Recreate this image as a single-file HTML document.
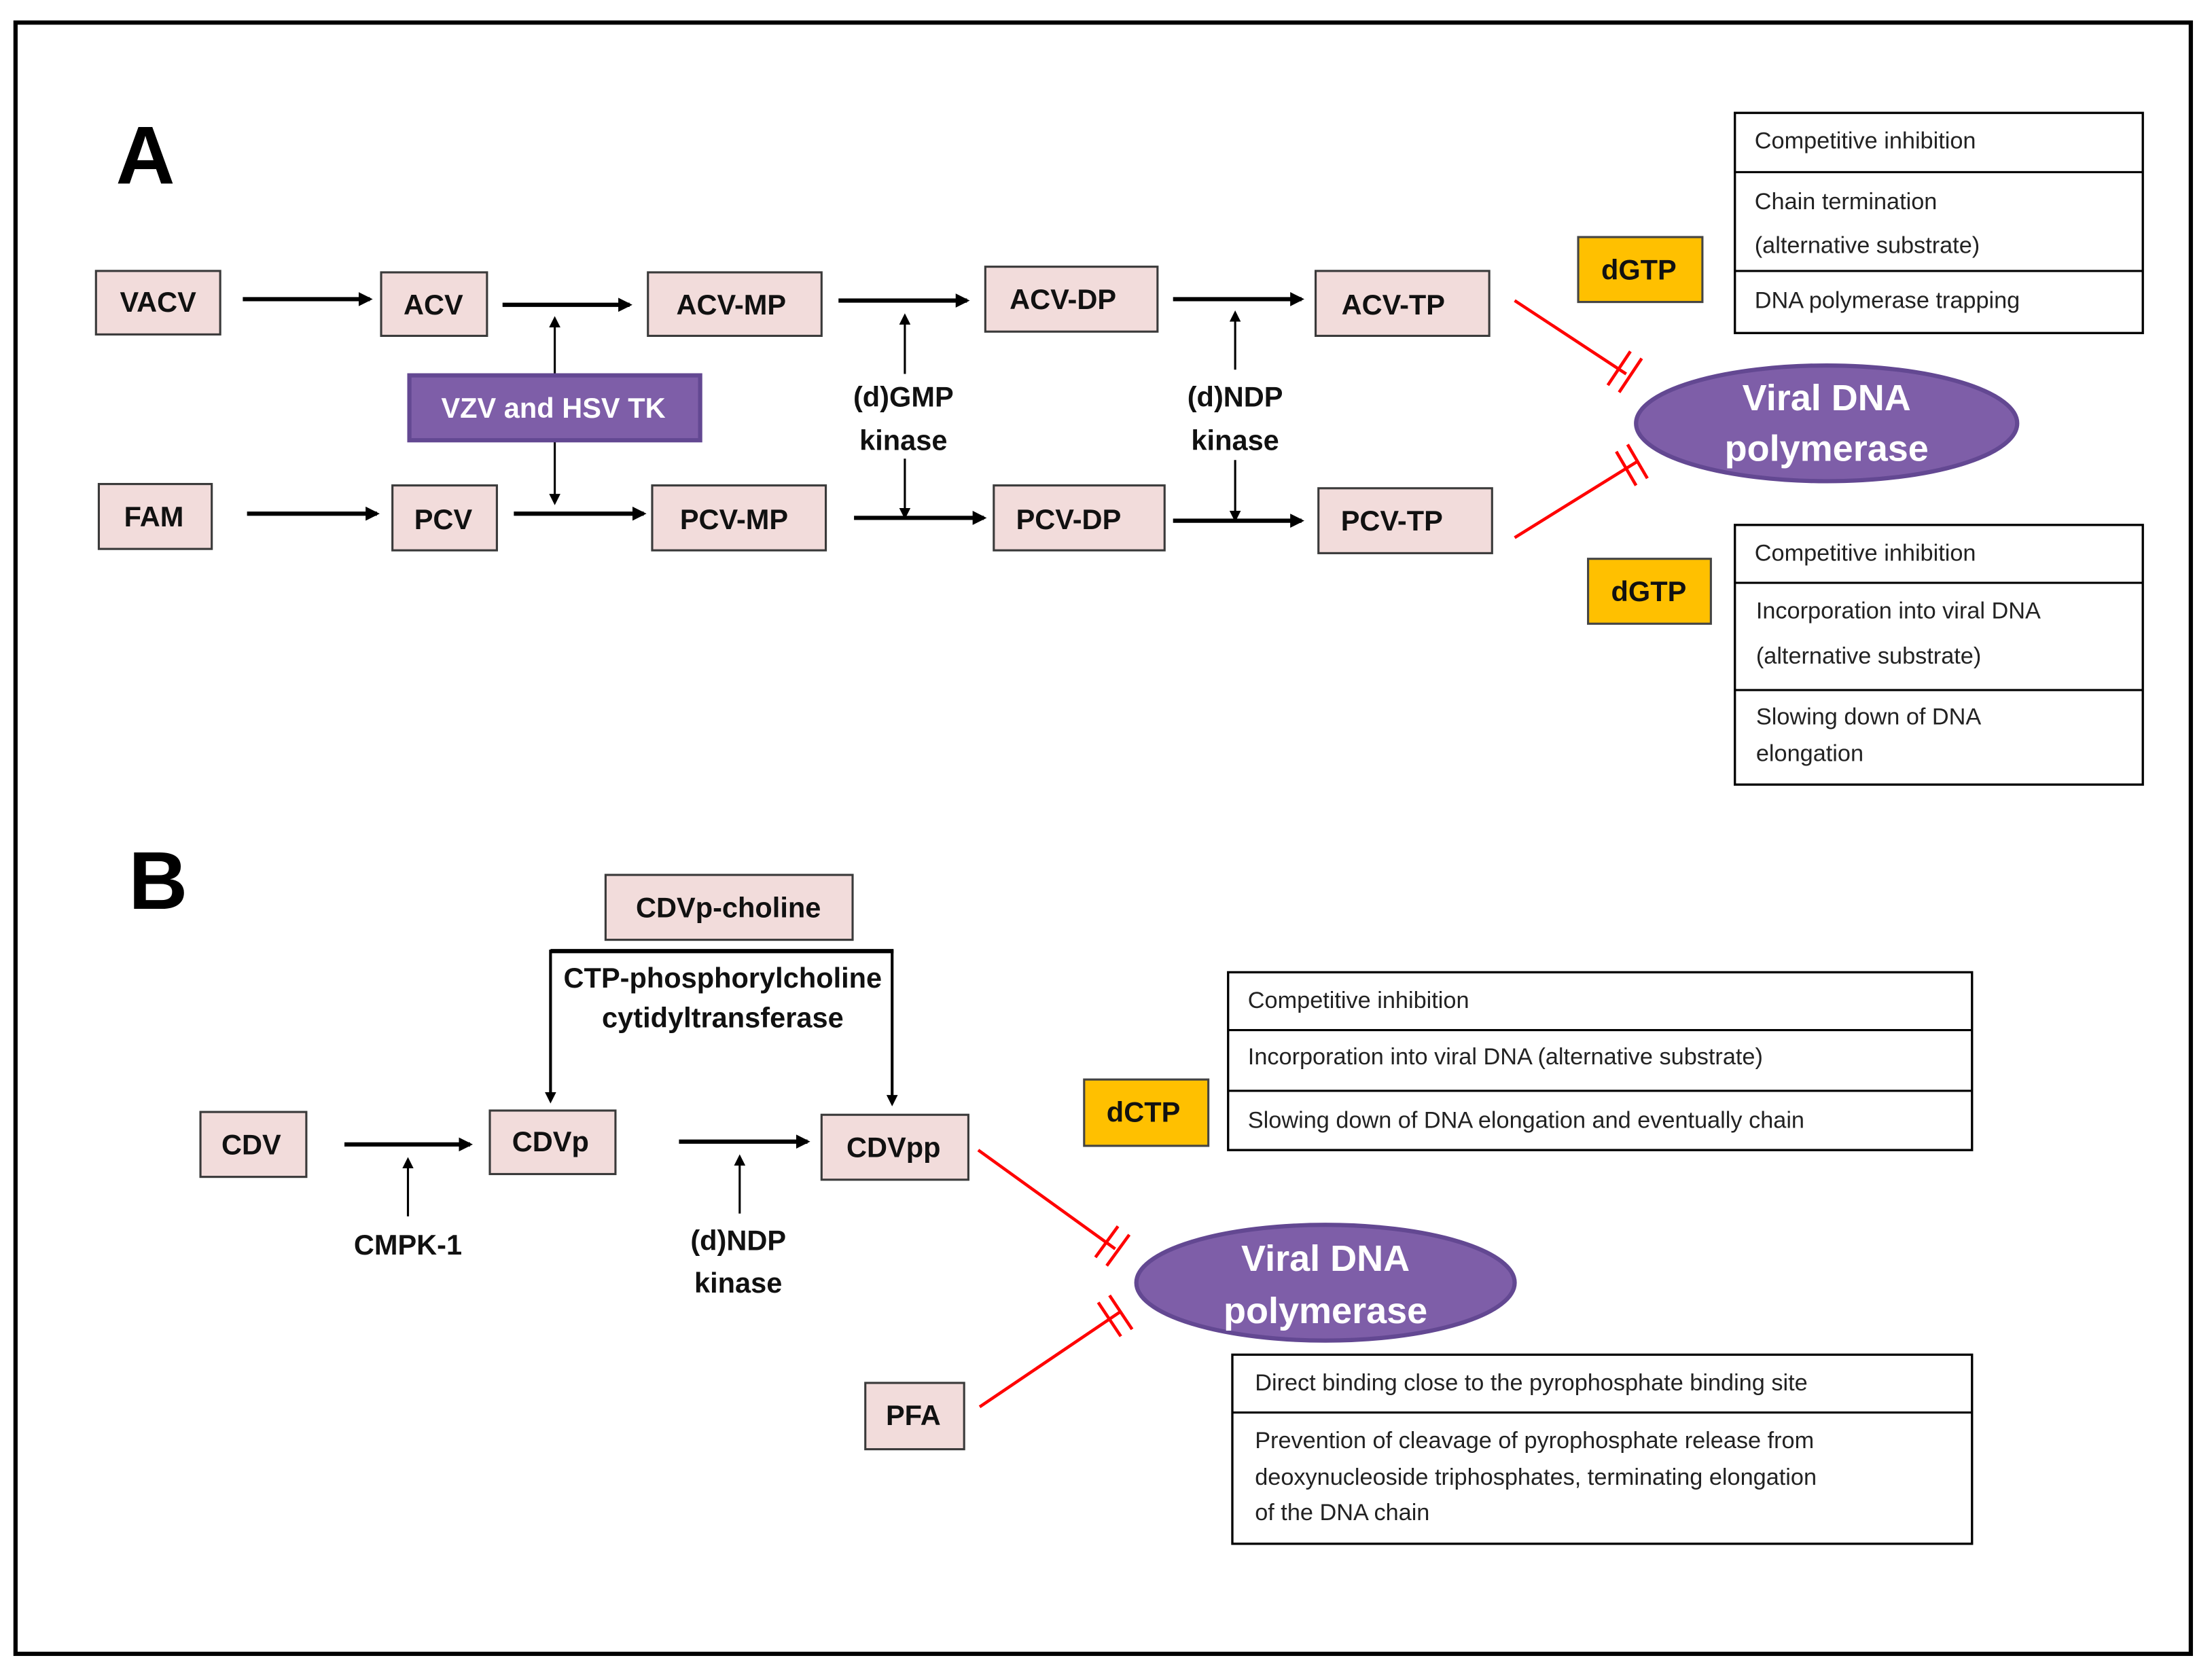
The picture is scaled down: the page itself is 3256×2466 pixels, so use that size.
<!DOCTYPE html>
<html><head><meta charset="utf-8"><style>
html,body{margin:0;padding:0;background:#fff;}
svg{display:block;}
.b{fill:#F2DCDB;stroke:#3a3a3a;stroke-width:1.5;}
.t{font-family:"Liberation Sans",sans-serif;font-weight:bold;font-size:20px;fill:#111;text-anchor:middle;dominant-baseline:central;}
.s{font-family:"Liberation Sans",sans-serif;font-size:16.5px;fill:#222;dominant-baseline:central;}
.w{font-family:"Liberation Sans",sans-serif;font-weight:bold;fill:#fff;text-anchor:middle;dominant-baseline:central;}
.a{stroke:#000;stroke-width:3;fill:none;}
.n{stroke:#000;stroke-width:1.5;fill:none;}
.r{stroke:#f00;stroke-width:2.2;fill:none;}
.tb{fill:#fff;stroke:#000;stroke-width:1.6;}
.y{fill:#FFC000;stroke:#444;stroke-width:1.5;}
</style></head><body>
<svg width="3256" height="2466" viewBox="0 0 1567 1187" preserveAspectRatio="none" xmlns="http://www.w3.org/2000/svg">
<defs>
<marker id="m" markerWidth="8" markerHeight="8" refX="6" refY="4" orient="auto" markerUnits="userSpaceOnUse"><path d="M0,0 L8,4 L0,8 z" fill="#000"/></marker>
<marker id="ms" markerWidth="10" markerHeight="10" refX="8" refY="5" orient="auto" markerUnits="userSpaceOnUse"><path d="M0,0 L10,5 L0,10 z" fill="#000"/></marker>
</defs>
<rect x="11" y="16" width="1541" height="1156" fill="#fff" stroke="#000" stroke-width="3"/>

<text x="103" y="110" style="font-family:'Liberation Sans',sans-serif;font-weight:bold;font-size:58px;" text-anchor="middle" dominant-baseline="central">A</text>
<text x="112" y="624" style="font-family:'Liberation Sans',sans-serif;font-weight:bold;font-size:58px;" text-anchor="middle" dominant-baseline="central">B</text>

<rect class="b" x="68" y="192" width="88" height="45"/><text class="t" x="112" y="214">VACV</text>
<rect class="b" x="270" y="193" width="75" height="45"/><text class="t" x="307" y="216">ACV</text>
<rect class="b" x="459" y="193" width="123" height="45"/><text class="t" x="518" y="216">ACV-MP</text>
<rect class="b" x="698" y="189" width="122" height="46"/><text class="t" x="753" y="212">ACV-DP</text>
<rect class="b" x="932" y="192" width="123" height="46"/><text class="t" x="987" y="216">ACV-TP</text>
<rect class="b" x="70" y="343" width="80" height="46"/><text class="t" x="109" y="366">FAM</text>
<rect class="b" x="278" y="344" width="74" height="46"/><text class="t" x="314" y="368">PCV</text>
<rect class="b" x="462" y="344" width="123" height="46"/><text class="t" x="520" y="368">PCV-MP</text>
<rect class="b" x="704" y="344" width="121" height="46"/><text class="t" x="757" y="368">PCV-DP</text>
<rect class="b" x="934" y="346" width="123" height="46"/><text class="t" x="986" y="369">PCV-TP</text>

<line class="a" x1="172" y1="212" x2="262" y2="212" marker-end="url(#ms)"/>
<line class="a" x1="356" y1="216" x2="446" y2="216" marker-end="url(#ms)"/>
<line class="a" x1="594" y1="213" x2="685" y2="213" marker-end="url(#ms)"/>
<line class="a" x1="831" y1="212" x2="922" y2="212" marker-end="url(#ms)"/>
<line class="a" x1="175" y1="364" x2="267" y2="364" marker-end="url(#ms)"/>
<line class="a" x1="364" y1="364" x2="456" y2="364" marker-end="url(#ms)"/>
<line class="a" x1="605" y1="367" x2="697" y2="367" marker-end="url(#ms)"/>
<line class="a" x1="831" y1="369" x2="922" y2="369" marker-end="url(#ms)"/>

<line class="n" x1="393" y1="265" x2="393" y2="226" marker-end="url(#m)"/>
<line class="n" x1="393" y1="313" x2="393" y2="356" marker-end="url(#m)"/>
<line class="n" x1="641" y1="265" x2="641" y2="224" marker-end="url(#m)"/>
<line class="n" x1="641" y1="325" x2="641" y2="366" marker-end="url(#m)"/>
<line class="n" x1="875" y1="262" x2="875" y2="222" marker-end="url(#m)"/>
<line class="n" x1="875" y1="326" x2="875" y2="368" marker-end="url(#m)"/>

<rect x="290" y="266" width="206" height="46" fill="#7E5EA8" stroke="#634892" stroke-width="3"/>
<text class="w" x="392" y="289" style="font-size:20px">VZV and HSV TK</text>
<text class="t" x="640" y="281">(d)GMP</text><text class="t" x="640" y="312">kinase</text>
<text class="t" x="875" y="281">(d)NDP</text><text class="t" x="875" y="312">kinase</text>

<rect class="y" x="1118" y="168" width="88" height="46"/><text class="t" x="1161" y="191">dGTP</text>
<rect class="y" x="1125" y="396" width="87" height="46"/><text class="t" x="1168" y="419">dGTP</text>

<rect class="tb" x="1229" y="80" width="289" height="156"/>
<line class="n" x1="1229" y1="122" x2="1518" y2="122"/><line class="n" x1="1229" y1="192" x2="1518" y2="192"/>
<text class="s" x="1243" y="100">Competitive inhibition</text>
<text class="s" x="1243" y="143">Chain termination</text>
<text class="s" x="1243" y="174">(alternative substrate)</text>
<text class="s" x="1243" y="213">DNA polymerase trapping</text>
<rect class="tb" x="1229" y="372" width="289" height="184"/>
<line class="n" x1="1229" y1="413" x2="1518" y2="413"/><line class="n" x1="1229" y1="489" x2="1518" y2="489"/>
<text class="s" x="1243" y="392">Competitive inhibition</text>
<text class="s" x="1244" y="433">Incorporation into viral DNA</text>
<text class="s" x="1244" y="465">(alternative substrate)</text>
<text class="s" x="1244" y="508">Slowing down of DNA</text>
<text class="s" x="1244" y="534">elongation</text>

<ellipse cx="1294" cy="300" rx="135" ry="41" fill="#7E5EA8" stroke="#634892" stroke-width="3"/>
<text class="w" x="1294" y="282" style="font-size:26px">Viral DNA</text>
<text class="w" x="1294" y="318" style="font-size:26px">polymerase</text>

<line class="r" x1="1073" y1="213" x2="1152" y2="265"/>
<line class="r" x1="1139" y1="273" x2="1155" y2="249"/><line class="r" x1="1147" y1="278" x2="1163" y2="254"/>
<line class="r" x1="1073" y1="381" x2="1160" y2="327"/>
<line class="r" x1="1145" y1="320" x2="1159" y2="344"/><line class="r" x1="1153" y1="315" x2="1167" y2="339"/>

<rect class="b" x="429" y="620" width="175" height="46"/><text class="t" x="516" y="643">CDVp-choline</text>
<polyline class="a" points="390,674 633,674"/>
<line class="n" x1="390" y1="673" x2="390" y2="780" marker-end="url(#m)" style="stroke-width:2"/>
<line class="n" x1="632" y1="673" x2="632" y2="782" marker-end="url(#m)" style="stroke-width:2"/>
<text class="t" x="512" y="693">CTP-phosphorylcholine</text>
<text class="t" x="512" y="721">cytidyltransferase</text>

<rect class="b" x="142" y="788" width="75" height="46"/><text class="t" x="178" y="811">CDV</text>
<rect class="b" x="347" y="787" width="89" height="45"/><text class="t" x="390" y="809">CDVp</text>
<rect class="b" x="582" y="790" width="104" height="46"/><text class="t" x="633" y="813">CDVpp</text>
<line class="a" x1="244" y1="811" x2="333" y2="811" marker-end="url(#ms)"/>
<line class="a" x1="481" y1="809" x2="572" y2="809" marker-end="url(#ms)"/>
<line class="n" x1="289" y1="862" x2="289" y2="822" marker-end="url(#m)"/>
<line class="n" x1="524" y1="860" x2="524" y2="820" marker-end="url(#m)"/>
<text class="t" x="289" y="882">CMPK-1</text>
<text class="t" x="523" y="879">(d)NDP</text><text class="t" x="523" y="909">kinase</text>

<rect class="y" x="768" y="765" width="88" height="47"/><text class="t" x="810" y="788">dCTP</text>
<rect class="tb" x="870" y="689" width="527" height="126"/>
<line class="n" x1="870" y1="730" x2="1397" y2="730"/><line class="n" x1="870" y1="773" x2="1397" y2="773"/>
<text class="s" x="884" y="709">Competitive inhibition</text>
<text class="s" x="884" y="749">Incorporation into viral DNA (alternative substrate)</text>
<text class="s" x="884" y="794">Slowing down of DNA elongation and eventually chain</text>

<ellipse cx="939" cy="909" rx="134" ry="41" fill="#7E5EA8" stroke="#634892" stroke-width="3"/>
<text class="w" x="939" y="892" style="font-size:26px">Viral DNA</text>
<text class="w" x="939" y="929" style="font-size:26px">polymerase</text>

<line class="r" x1="693" y1="815" x2="790" y2="885"/>
<line class="r" x1="776" y1="891" x2="792" y2="869"/><line class="r" x1="784" y1="897" x2="800" y2="875"/>
<line class="r" x1="694" y1="997" x2="793" y2="930"/>
<line class="r" x1="778" y1="923" x2="794" y2="947"/><line class="r" x1="786" y1="918" x2="802" y2="942"/>

<rect class="b" x="613" y="980" width="70" height="47"/><text class="t" x="647" y="1003">PFA</text>
<rect class="tb" x="873" y="960" width="524" height="134"/>
<line class="n" x1="873" y1="1001" x2="1397" y2="1001"/>
<text class="s" x="889" y="980">Direct binding close to the pyrophosphate binding site</text>
<text class="s" x="889" y="1021">Prevention of cleavage of pyrophosphate release from</text>
<text class="s" x="889" y="1047">deoxynucleoside triphosphates, terminating elongation</text>
<text class="s" x="889" y="1072">of the DNA chain</text>
</svg>
</body></html>
